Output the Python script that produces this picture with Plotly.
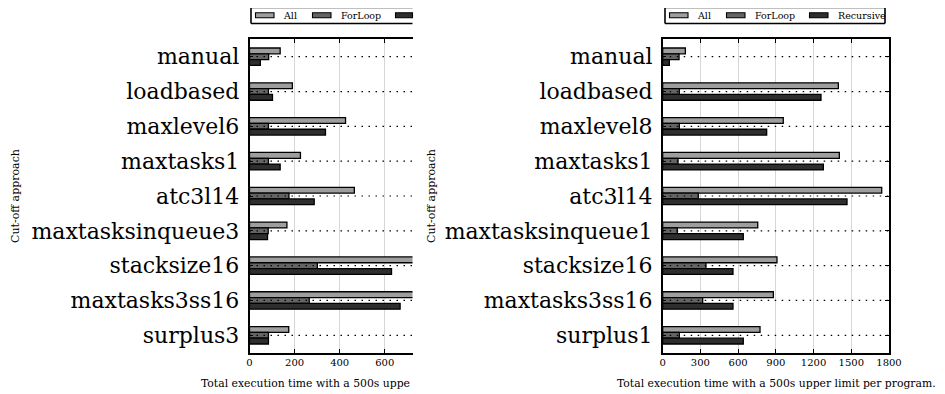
import plotly.graph_objects as go

# page offset (browser body margin) compensation
OFF = 8
FW, FH = 929, 386

series_names = ["All", "ForLoop", "Recursive"]
series_colors = ["#9e9e9e", "#646464", "#2e2e2e"]

cats_left = ["manual", "loadbased", "maxlevel6", "maxtasks1", "atc3l14",
             "maxtasksinqueue3", "stacksize16", "maxtasks3ss16", "surplus3"]
all_left = [136, 190, 426, 226, 465, 166, 900, 870, 174]
for_left = [85, 84, 84, 84, 175, 83, 301, 265, 84]
rec_left = [48, 102, 337, 136, 287, 80, 630, 668, 84]

cats_right = ["manual", "loadbased", "maxlevel8", "maxtasks1", "atc3l14",
              "maxtasksinqueue1", "stacksize16", "maxtasks3ss16", "surplus1"]
all_right = [180, 1397, 959, 1405, 1742, 756, 909, 880, 774]
for_right = [130, 132, 132, 122, 283, 116, 344, 318, 132]
rec_right = [53, 1259, 827, 1278, 1466, 641, 559, 559, 641]

left_ticks = [0, 200, 400, 600]
right_ticks = [0, 300, 600, 900, 1200, 1500, 1800]

xlabel = "Total execution time with a 500s upper limit per program."
xlabel_cut = "Total execution time with a 500s uppe"
ylabel = "Cut-off approach"

FONT = "DejaVu Serif"


def px(p):
    return (p - OFF) / FW


def py(p):
    return 1 - (p - OFF) / FH


fig = go.Figure()

for vals, xa, ya, cats in [
    ((all_left, for_left, rec_left), "x", "y", cats_left),
    ((all_right, for_right, rec_right), "x2", "y2", cats_right),
]:
    for name, col, v in zip(series_names, series_colors, vals):
        fig.add_trace(go.Bar(
            x=v, y=cats, orientation="h", name=name, xaxis=xa, yaxis=ya,
            marker=dict(color=col, line=dict(color="black", width=1.3)),
            showlegend=False, offsetgroup=name,
        ))

ydom = [py(352.7), py(39.3)]
axis_common = dict(showline=True, linecolor="black", linewidth=1.5,
                   ticks="inside", ticklen=4, tickcolor="black",
                   tickfont=dict(family=FONT, size=10, color="black"),
                   zeroline=False, automargin=False)
ytickfont = dict(family=FONT, size=22, color="black")

fig.update_layout(
    width=FW, height=FH, autosize=False, showlegend=False,
    margin=dict(l=0, r=0, t=0, b=0, pad=0, autoexpand=False),
    paper_bgcolor="white", plot_bgcolor="white",
    barmode="group", bargap=0.5, bargroupgap=0,
    font=dict(family=FONT, color="black"),
    xaxis=dict(domain=[px(249.5), px(412.5)], range=[0, 723],
               tickvals=left_ticks, mirror="ticks",
               showgrid=True, gridcolor="#d6d6d6", gridwidth=1,
               anchor="y", **axis_common),
    yaxis=dict(domain=ydom, range=[8.5, -0.5], type="category",
               categoryorder="array", categoryarray=cats_left,
               showgrid=False, anchor="x", ticklabelstandoff=4,
               **{**axis_common, "tickfont": ytickfont}),
    xaxis2=dict(domain=[px(662.7), px(889)], range=[0, 1800],
                tickvals=right_ticks, mirror="ticks",
                showgrid=True, gridcolor="#d6d6d6", gridwidth=1,
                anchor="y2", **axis_common),
    yaxis2=dict(domain=ydom, range=[8.5, -0.5], type="category",
                categoryorder="array", categoryarray=cats_right,
                showgrid=False, anchor="x2", mirror="ticks", ticklabelstandoff=4,
                **{**axis_common, "tickfont": ytickfont}),
)

shapes = []
# dotted category lines above bars
for cats, xr, yr in [(cats_left, "x domain", "y"), (cats_right, "x2 domain", "y2")]:
    for c in cats:
        shapes.append(dict(type="line", xref=xr, yref=yr, x0=0, x1=1, y0=c, y1=c,
                           line=dict(color="black", width=1.2, dash="1.5px,5.5px"),
                           layer="above"))


def legend(x0, clip=None):
    right = x0 + 220
    top, bot = 7.5, 23.5
    xr = right if clip is None else clip
    shapes.append(dict(type="rect", xref="paper", yref="paper",
                       x0=px(x0), x1=px(xr), y0=py(bot), y1=py(top),
                       fillcolor="white", line=dict(width=0)))
    for (a, b, c, d) in [(x0, top, xr, top), (x0, bot, xr, bot), (x0, top, x0, bot)]:
        shapes.append(dict(type="line", xref="paper", yref="paper",
                           x0=px(a), y0=py(b), x1=px(c), y1=py(d),
                           line=dict(color="black", width=1.6)))
    if clip is None:
        shapes.append(dict(type="line", xref="paper", yref="paper",
                           x0=px(right), y0=py(top), x1=px(right), y1=py(bot),
                           line=dict(color="black", width=1.6)))
    offs = [4.5, 61.5, 144.5]
    toffs = [30, 88, 171]
    anns = []
    for name, col, o, t in zip(series_names, series_colors, offs, toffs):
        pa, pb = x0 + o, x0 + o + 18.5
        if clip is not None and pa >= clip:
            continue
        pb_c = min(pb, clip) if clip is not None else pb
        shapes.append(dict(type="rect", xref="paper", yref="paper",
                           x0=px(pa), x1=px(pb_c), y0=py(17.8), y1=py(12.8),
                           fillcolor=col, line=dict(color="black", width=1.1)))
        if clip is None or x0 + t + 40 < clip:
            anns.append(dict(text=name, xref="paper", yref="paper",
                             x=px(x0 + t), y=py(15.5), xanchor="left", yanchor="middle",
                             showarrow=False, font=dict(family=FONT, size=9.5, color="black")))
    return anns


annotations = []
annotations += legend(251, clip=412.5)
annotations += legend(665)

annotations.append(dict(text=xlabel, xref="paper", yref="paper",
                        x=px(776.5), y=py(383.5), xanchor="center", yanchor="middle",
                        showarrow=False, font=dict(family=FONT, size=10.8, color="black")))
annotations.append(dict(text=xlabel_cut, xref="paper", yref="paper",
                        x=px(199), y=py(383.5), xanchor="left", yanchor="middle",
                        showarrow=False, font=dict(family=FONT, size=10.8, color="black")))
for xc in [16, 432]:
    annotations.append(dict(text=ylabel, xref="paper", yref="paper",
                            x=px(xc), y=py(196), xanchor="center", yanchor="middle",
                            textangle=-90, showarrow=False,
                            font=dict(family=FONT, size=11, color="black")))

fig.update_layout(shapes=shapes, annotations=annotations)

fig.write_html("out.html")
